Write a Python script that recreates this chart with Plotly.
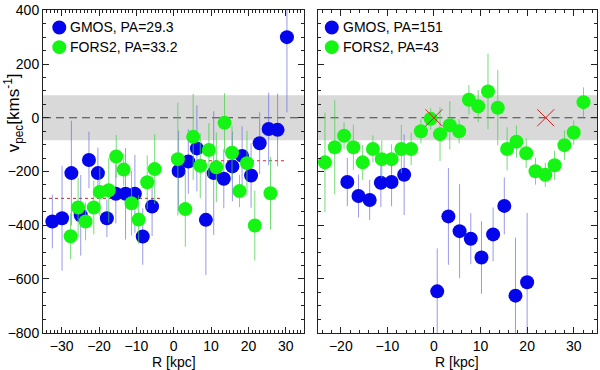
"""
plot.py
───────
Peculiar velocity vs. radius along two slit position angles,
GMOS and FORS2 measurements side by side.
"""

import plotly.graph_objects as go


# ── Data ──────────────────────────────────────────────────────────────────────

# left panel: GMOS PA=29.3, FORS2 PA=33.2
gmos_l_r = [-32.5, -29.9, -27.4, -24.9, -22.7, -20.3, -17.9, -15.5, -12.9, -10.4,
            -8.3, -5.8, 1.3, 3.9, 6.2, 8.6, 10.7, 13.4, 15.7, 18.3,
            20.7, 23.0, 25.4, 27.8, 30.3]
gmos_l_v = [-386, -374, -206, -363, -157, -206, -374, -283, -283, -283,
            -442, -330, -198, -163, -114, -380, -206, -227, -181, -142,
            -215, -95, -42, -45, 300]
gmos_l_err = [100, 195, 195, 150, 105, 95, 70, 110, 170, 145,
              105, 110, 150, 120, 160, 205, 230, 110, 130, 110,
              120, 115, 135, 135, 280]

fors_l_r = [-27.6, -25.6, -23.6, -21.4, -19.8, -17.4, -15.4, -13.4, -11.3, -9.4,
            -7.1, -5.1, 1.1, 3.1, 5.2, 7.1, 9.4, 11.4, 13.6, 15.6,
            17.6, 19.6, 21.7, 25.9]
fors_l_v = [-441, -334, -386, -334, -276, -270, -144, -193, -318, -379,
            -240, -191, -154, -340, -71, -179, -120, -184, -19, -130,
            -273, -169, -401, -281]
fors_l_err = [85, 110, 70, 100, 90, 120, 80, 60, 120, 90,
              100, 130, 210, 140, 160, 120, 100, 130, 110, 100,
              60, 120, 130, 135]

# right panel: GMOS PA=151, FORS2 PA=43
gmos_r_r = [-18.6, -16.2, -13.8, -11.4, -9.1, -6.4, 0.7, 3.1, 5.5, 7.9,
            10.2, 12.7, 15.1, 17.5, 20.0]
gmos_r_v = [-239, -291, -306, -242, -239, -212, -646, -367, -422, -450,
            -520, -434, -328, -662, -612]
gmos_r_err = [90, 80, 75, 90, 90, 150, 160, 180, 175, 95,
              135, 100, 106, 216, 258]

fors_r_r = [-23.4, -21.3, -19.3, -17.3, -15.3, -13.1, -11.2, -9.1, -7.0, -4.9,
            -2.8, -0.7, 1.3, 3.4, 5.4, 7.5, 9.5, 11.6, 13.7, 15.7,
            17.7, 19.8, 21.8, 23.9, 25.9, 28.0, 30.0, 32.1]
fors_r_v = [-166, -110, -67, -110, -166, -116, -154, -154, -116, -116,
            -50, -4, -61, -28, -50, 67, 43, 98, 37, -116,
            -89, -132, -199, -212, -177, -102, -55, 58]
fors_r_err = [185, 175, 50, 85, 65, 50, 70, 55, 90, 60,
              45, 40, 100, 90, 45, 55, 60, 140, 140, 80,
              60, 55, 50, 45, 55, 55, 45, 55]

# mean-velocity segments in the left panel: (r_start, r_end, v)
mean_segments = [(-35, -3, -300), (3, 30, -160)]

# red crosses in the right panel
cross_r = [0, 24]
cross_v = [0, 0]

band_half = 84           # shaded ±v band
legend_left = ["GMOS, PA=29.3", "FORS2, PA=33.2"]
legend_right = ["GMOS, PA=151", "FORS2, PA=43"]


# ── Style ─────────────────────────────────────────────────────────────────────

BLUE = "rgb(5,5,235)"
GREEN = "rgb(20,245,20)"
BLUE_ERR = "rgba(110,110,225,0.7)"
GREEN_ERR = "rgba(70,210,70,0.75)"
FONT = "Liberation Sans, Arial, sans-serif"
MSIZE = 14


def points(r, v, err, color, err_color, xa, ya):
    return go.Scatter(
        x=r, y=v, mode="markers", xaxis=xa, yaxis=ya, showlegend=False,
        marker=dict(size=MSIZE, color=color, line=dict(width=0)),
        error_y=dict(type="data", array=err, color=err_color, thickness=1, width=0),
    )


fig = go.Figure()

for r0, r1, v in mean_segments:
    fig.add_trace(go.Scatter(
        x=[r0, r1], y=[v, v], mode="lines", xaxis="x", yaxis="y", showlegend=False,
        line=dict(color="rgb(200,40,40)", width=1, dash="dot"),
    ))

fig.add_trace(points(gmos_l_r, gmos_l_v, gmos_l_err, BLUE, BLUE_ERR, "x", "y"))
fig.add_trace(points(fors_l_r, fors_l_v, fors_l_err, GREEN, GREEN_ERR, "x", "y"))
fig.add_trace(points(gmos_r_r, gmos_r_v, gmos_r_err, BLUE, BLUE_ERR, "x2", "y2"))
fig.add_trace(points(fors_r_r, fors_r_v, fors_r_err, GREEN, GREEN_ERR, "x2", "y2"))

fig.add_trace(go.Scatter(
    x=cross_r, y=cross_v, mode="markers", xaxis="x2", yaxis="y2", showlegend=False,
    marker=dict(symbol="x-thin", size=17, line=dict(color="rgb(205,35,35)", width=1)),
))


# ── Band, zero line, legends ──────────────────────────────────────────────────

shapes = []
for xr, yr in (("x domain", "y"), ("x2 domain", "y2")):
    shapes.append(dict(type="rect", xref=xr, yref=yr, x0=0, x1=1,
                       y0=-band_half, y1=band_half, layer="below",
                       fillcolor="rgb(217,217,217)", line=dict(width=0)))
    shapes.append(dict(type="line", xref=xr, yref=yr, x0=0, x1=1, y0=0, y1=0,
                       layer="below", line=dict(color="#444", width=1.2, dash="8px,5px")))

annotations = []
for labels, cx in ((legend_left, 0.0294), (legend_right, 0.5213)):
    for label, color, cy in zip(labels, (BLUE, GREEN), (0.946, 0.885)):
        shapes.append(dict(type="circle", xref="paper", yref="paper",
                           xsizemode="pixel", ysizemode="pixel",
                           xanchor=cx, yanchor=cy, x0=-7, x1=7, y0=-7, y1=7,
                           fillcolor=color, line=dict(width=0)))
        annotations.append(dict(text=label, xref="paper", yref="paper",
                                x=cx + 0.0165, y=cy, xanchor="left", yanchor="middle",
                                showarrow=False, font=dict(size=14, color="black")))

for xr in ("x domain", "x2 domain"):
    annotations.append(dict(text="R [kpc]", xref=xr, yref="paper", x=0.5, y=-0.09,
                            xanchor="center", yanchor="middle", showarrow=False,
                            font=dict(size=14, color="black")))

annotations.append(dict(text="v<sub>pec</sub>[kms<sup>-1</sup>]", xref="paper", yref="paper",
                        x=-0.053, y=0.682, xanchor="center", yanchor="middle",
                        textangle=-90, showarrow=False, font=dict(size=17, color="black")))


# ── Layout ────────────────────────────────────────────────────────────────────

axis_common = dict(
    showgrid=False, zeroline=False, showline=True, linecolor="#222", linewidth=1,
    mirror="allticks", ticks="inside", ticklen=6, tickcolor="#222",
    tickfont=dict(size=14, color="black"), ticklabeloverflow="allow",
)

fig.update_layout(
    width=600, height=370,
    margin=dict(l=43, r=2, t=6, b=37),
    plot_bgcolor="white", paper_bgcolor="white",
    font=dict(family=FONT, color="black"),
    shapes=shapes, annotations=annotations,
    xaxis=dict(domain=[0, 0.472], range=[-35, 35], dtick=10,
               minor=dict(dtick=1, ticks="inside", ticklen=3, tickcolor="#222"),
               **axis_common),
    yaxis=dict(range=[-801, 401], dtick=200,
               minor=dict(dtick=50, ticks="inside", ticklen=3, tickcolor="#222"),
               **axis_common),
    xaxis2=dict(domain=[0.4955, 1], range=[-25, 35], dtick=10, anchor="y2",
                minor=dict(dtick=2, ticks="inside", ticklen=3, tickcolor="#222"),
                **axis_common),
    yaxis2=dict(range=[-801, 401], dtick=200, anchor="x2", showticklabels=False,
                minor=dict(dtick=50, ticks="inside", ticklen=3, tickcolor="#222"),
                **axis_common),
)

# the page's default body margin would push the figure off the window
fig.write_html("out.html", config={"displayModeBar": False},
               post_script="document.body.style.margin='0';")
